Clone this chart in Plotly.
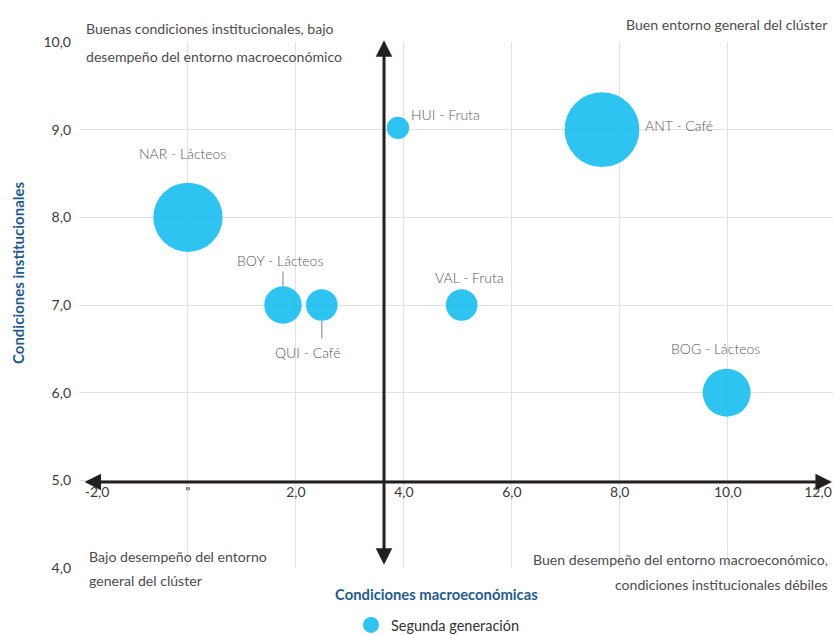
import plotly.graph_objects as go

# ---------------- data ----------------
clusters = ["NAR - Lácteos", "BOY - Lácteos", "QUI - Café", "HUI - Fruta",
            "ANT - Café", "VAL - Fruta", "BOG - Lácteos"]
cond_macro = [0.0, 1.76, 2.48, 3.89, 7.67, 5.07, 9.98]
cond_inst = [8.0, 7.0, 7.0, 9.02, 9.0, 7.0, 6.0]
tamano = [48, 14, 10, 5, 56, 10, 23]
serie = "Segunda generación"

x_tickvals = [0, 2, 4, 6, 8, 10]
x_ticktext = ['"', "2,0", "4,0", "6,0", "8,0", "10,0"]
x_first_val, x_first_text = -2, "-2,0"
x_last_val, x_last_text = 12, "12,0"
y_tickvals = [4, 5, 6, 7, 8, 9, 10]
y_ticktext = ["4,0", "5,0", "6,0", "7,0", "8,0", "9,0", "10,0"]

x_title = "Condiciones macroeconómicas"
y_title = "Condiciones institucionales"
quad_tl = ["Buenas condiciones institucionales, bajo",
           "desempeño del entorno macroeconómico"]
quad_tr = ["Buen entorno general del clúster"]
quad_bl = ["Bajo desempeño del entorno", "general del clúster"]
quad_br = ["Buen desempeño del entorno macroeconómico,",
           "condiciones institucionales débiles"]

# ---------------- layout constants ----------------
W, H = 833, 635
# plot area in screen pixels: x 80..833, y 42..568
ML, MR, MT, MB = 80, 0, 42, 635 - 568
PW, PH = W - ML - MR, H - MT - MB
XR = [-2, 11.95]
YR = [4, 10]
X_CROSS, Y_CROSS = 3.632, 4.98

NARROW = "Lato, sans-serif"
LIGHT = "Lato, sans-serif"
QCOL = "#4d4d4d"
BLUE = "#1f5c8c"
BUBBLE = "rgba(30,192,241,0.93)"


def px(xs):
    """screen x pixel -> paper x"""
    return (xs - ML) / PW


def py(ys):
    """screen y pixel -> paper y"""
    return (H - MB - ys) / PH


fig = go.Figure()
fig.add_trace(go.Scatter(
    x=cond_macro, y=cond_inst, mode="markers", name=serie,
    text=clusters,
    marker=dict(size=tamano, sizemode="area", sizeref=0.02, opacity=1,
                color=BUBBLE, line=dict(width=0)),
    cliponaxis=False,
    hovertemplate="%{text}<extra></extra>",
))

ann = []


def qtext(lines, xpix, ypix_list, anchor):
    for t, yp in zip(lines, ypix_list):
        ann.append(dict(text=t, xref="paper", yref="paper", x=px(xpix), y=py(yp),
                        xanchor=anchor, yanchor="middle", showarrow=False,
                        font=dict(family=NARROW, size=14.1, color=QCOL)))


qtext(quad_tl, 84, [29, 57], "left")
qtext(quad_tr, 830, [24], "right")
qtext(quad_bl, 87, [556, 580], "left")
qtext(quad_br, 830, [559, 584], "right")

# axis titles
ann.append(dict(text=x_title, xref="paper", yref="paper", x=px(436), y=py(594),
                xanchor="center", yanchor="middle", showarrow=False,
                font=dict(family=NARROW, size=14.8, color=BLUE, weight="bold")))
ann.append(dict(text=y_title, xref="paper", yref="paper", x=px(18), y=py(273),
                xanchor="center", yanchor="middle", showarrow=False, textangle=-90,
                font=dict(family=NARROW, size=15, color=BLUE, weight="bold")))

# crossing arrows
ann.append(dict(x=11.93, y=Y_CROSS, ax=-1.944, ay=Y_CROSS, xref="x", yref="y",
                axref="x", ayref="y", text="", showarrow=True, arrowhead=2,
                arrowside="end+start", arrowsize=1.1, arrowwidth=3, arrowcolor="#231f20"))
ann.append(dict(x=X_CROSS, y=10.02, ax=X_CROSS, ay=4.02, xref="x", yref="y",
                axref="x", ayref="y", text="", showarrow=True, arrowhead=2,
                arrowside="end+start", arrowsize=1.1, arrowwidth=3, arrowcolor="#231f20"))

# bubble labels (pixel offsets from bubble centre)
offsets = {
    "NAR - Lácteos": (-5, 64),
    "BOY - Lácteos": (-3, 45),
    "QUI - Café": (-14, -47),
    "HUI - Fruta": (48, 13),
    "ANT - Café": (77, 4),
    "VAL - Fruta": (8, 28),
    "BOG - Lácteos": (-11, 44),
}
for name, xv, yv in zip(clusters, cond_macro, cond_inst):
    dx, dy = offsets[name]
    ann.append(dict(text=name, x=xv, y=yv, xref="x", yref="y", showarrow=False,
                    xshift=dx, yshift=dy, xanchor="center", yanchor="middle",
                    font=dict(family=LIGHT, size=14, color="#5a5a5a", weight=300)))

# leader lines for BOY and QUI
for name, xv, yv in zip(clusters, cond_macro, cond_inst):
    if name == "BOY - Lácteos":
        ann.append(dict(x=xv, y=yv, xref="x", yref="y", text="", showarrow=True,
                        arrowhead=0, ax=0, ay=-35, standoff=19, arrowwidth=1,
                        arrowcolor="#808080"))
    if name == "QUI - Café":
        ann.append(dict(x=xv, y=yv, xref="x", yref="y", text="", showarrow=True,
                        arrowhead=0, ax=0, ay=35, standoff=16, arrowwidth=1,
                        arrowcolor="#808080"))

tickfont = dict(family=LIGHT, size=14, color="#3a3a3a")
ypos = (Y_CROSS - YR[0]) / (YR[1] - YR[0])

fig.update_layout(
    template="none",
    width=W, height=H,
    margin=dict(l=ML, r=MR, t=MT, b=MB, pad=0, autoexpand=False),
    paper_bgcolor="white", plot_bgcolor="white",
    showlegend=True,
    legend=dict(orientation="h", x=px(351), y=py(625), xanchor="left",
                yanchor="middle", font=dict(family=NARROW, size=14.5, color="#333333"),
                bgcolor="rgba(0,0,0,0)", itemsizing="trace"),
    xaxis=dict(range=XR, tickvals=x_tickvals, ticktext=x_ticktext,
               showgrid=True, gridcolor="#e2e2e2", gridwidth=1, zeroline=False,
               showline=False, ticks="", anchor="free", position=ypos,
               tickfont=tickfont, fixedrange=True, automargin=False),
    xaxis2=dict(range=[-2, 12], tickvals=[x_last_val], ticktext=[x_last_text],
                overlaying="x", anchor="free", position=ypos, showgrid=False,
                zeroline=False, showline=False, ticks="", side="bottom",
                ticklabelshift=-15, tickfont=tickfont, automargin=False),
    xaxis3=dict(range=XR, tickvals=[x_first_val], ticktext=[x_first_text],
                overlaying="x", anchor="free", position=ypos, showgrid=False,
                zeroline=False, showline=False, ticks="", side="bottom",
                ticklabelshift=17, tickfont=tickfont, automargin=False),
    yaxis=dict(range=YR, tickvals=y_tickvals, ticktext=y_ticktext,
               showgrid=True, gridcolor="#e2e2e2", gridwidth=1, zeroline=False,
               showline=False, ticks="", ticklabelstandoff=8,
               tickfont=tickfont, fixedrange=True, automargin=False),
    annotations=ann,
)

fig.add_trace(go.Scatter(x=[None], y=[None], xaxis="x2", showlegend=False, hoverinfo="skip"))
fig.add_trace(go.Scatter(x=[None], y=[None], xaxis="x3", showlegend=False, hoverinfo="skip"))

fig.write_html(
    "out.html",
    config={"displayModeBar": False},
    post_script="document.body.style.margin='0';"
                "document.documentElement.style.overflow='hidden';",
)
